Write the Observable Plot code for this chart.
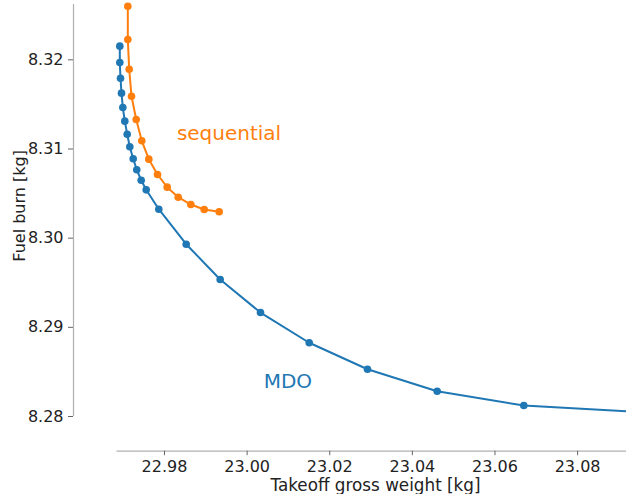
<!DOCTYPE html>
<html>
<head>
<meta charset="utf-8">
<script src="https://cdn.jsdelivr.net/npm/d3@7"></script>
<script src="https://cdn.jsdelivr.net/npm/@observablehq/plot@0.6"></script>
<style>
  html, body { margin: 0; padding: 0; background: #fff; }
  #chart { width: 626px; height: 494px; }
</style>
</head>
<body>
<div id="chart"></div>
<script>
// MDO front (takeoff gross weight [kg], fuel burn [kg]); last point lies beyond the right axis limit
const mdoWeight = [22.96918, 22.96918, 22.96935, 22.96959, 22.96991, 22.97039, 22.97097, 22.97160,
  22.97242, 22.97329, 22.97436, 22.97557, 22.97862, 22.98525, 22.99348, 23.00324, 23.01503,
  23.02914, 23.04601, 23.06698, 23.0940];
const mdoFuel = [8.32153, 8.31970, 8.31794, 8.31626, 8.31465, 8.31312, 8.31166, 8.31025,
  8.30890, 8.30767, 8.30650, 8.30542, 8.30325, 8.29932, 8.29536, 8.29166, 8.28827,
  8.28530, 8.28284, 8.28123, 8.28054];

// Sequential front
const seqWeight = [22.97112, 22.97112, 22.97145, 22.97201, 22.97315, 22.97450, 22.97620,
  22.97831, 22.98065, 22.98332, 22.98637, 22.98961, 22.99324];
const seqFuel = [8.32601, 8.32228, 8.31895, 8.31592, 8.31331, 8.31092, 8.30886,
  8.30714, 8.30572, 8.30459, 8.30377, 8.30321, 8.30296];

// Tick labels
const xTicks = [22.98, 23.00, 23.02, 23.04, 23.06, 23.08];
const yTicks = [8.28, 8.29, 8.30, 8.31, 8.32];

// Annotation labels
const labelNames = ["sequential", "MDO"];
const labelWeight = [22.9830, 23.0040];
const labelFuel = [8.3110, 8.2832];

// Axis limits (axes box) and view
const axesWeight = [22.9685, 23.0918];
const axesFuel = [8.28, 8.3262];
const viewWeight = [22.957971, 23.091838];
const viewFuel = [8.276109, 8.326652];

const BLUE = "#1f77b4", ORANGE = "#ff7f0e";

const mdo = mdoWeight.map((w, i) => ({w, f: mdoFuel[i]}));
const seq = seqWeight.map((w, i) => ({w, f: seqFuel[i]}));
const labels = labelNames.map((n, i) => ({n, w: labelWeight[i], f: labelFuel[i], c: i === 0 ? ORANGE : BLUE}));

const chart = Plot.plot({
  width: 626,
  height: 494,
  marginLeft: 73,
  marginRight: 0,
  marginTop: 0,
  marginBottom: 43.3,
  style: {fontFamily: "DejaVu Sans", fontSize: "16px", background: "#fff", color: "#222"},
  x: {domain: viewWeight},
  y: {domain: viewFuel},
  marks: [
    // spines
    Plot.ruleY([viewFuel[0]], {x1: axesWeight[0], x2: viewWeight[1], stroke: "#b0b0b0", strokeWidth: 1.2}),
    Plot.ruleX([viewWeight[0]], {y1: axesFuel[0], y2: axesFuel[1], stroke: "#b0b0b0", strokeWidth: 1.2}),
    Plot.axisX({ticks: xTicks, tickFormat: d3.format(".2f"), tickSize: 4.5, tickPadding: 4.5, label: null, stroke: "#666", fill: "#222"}),
    Plot.axisY({ticks: yTicks, tickFormat: d3.format(".2f"), tickSize: 5, tickPadding: 5, label: null, stroke: "#666", fill: "#222"}),
    // lines
    Plot.line(mdo, {x: "w", y: "f", stroke: BLUE, strokeWidth: 2, clip: true}),
    Plot.dot(mdo, {x: "w", y: "f", r: 3.8, fill: BLUE, clip: true}),
    Plot.line(seq, {x: "w", y: "f", stroke: ORANGE, strokeWidth: 2, clip: true}),
    Plot.dot(seq, {x: "w", y: "f", r: 3.8, fill: ORANGE, clip: true}),
    // annotations
    Plot.text(labels, {x: "w", y: "f", text: "n", fill: "c", fontSize: 20, textAnchor: "start", lineAnchor: "bottom"}),
    // axis titles
    Plot.text(["Takeoff gross weight [kg]"], {frameAnchor: "bottom", textAnchor: "middle", lineAnchor: "bottom", dx: 25.5, dy: 39.5, fill: "#222", fontSize: 16.8}),
    Plot.text(["Fuel burn [kg]"], {frameAnchor: "left", rotate: -90, textAnchor: "middle", lineAnchor: "bottom", dx: -48.5, dy: -20, fill: "#222", fontSize: 16})
  ]
});
document.getElementById("chart").appendChild(chart);
</script>
</body>
</html>
